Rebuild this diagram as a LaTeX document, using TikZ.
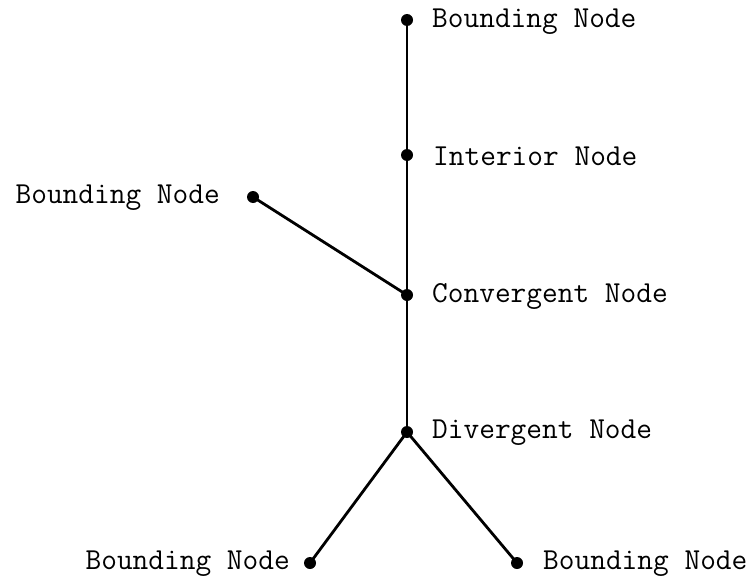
\documentclass[tikz,border=0pt]{standalone}
\usepackage{fontspec}
\begin{document}
\begin{tikzpicture}[x=1pt,y=-1pt,
  dot/.style={circle,fill=black,inner sep=0pt,minimum size=12pt},
  edge/.style={line width=2.8pt},
  lbl/.style={inner sep=0pt,font=\ttfamily\fontsize{30.5}{34}\selectfont}]
\useasboundingbox (0,0) rectangle (754,586);
\node[dot] (t) at (407,20) {};
\node[dot] (i) at (407,155) {};
\node[dot] (l) at (253,197) {};
\node[dot] (c) at (407,295) {};
\node[dot] (d) at (407,432) {};
\node[dot] (bl) at (310,563) {};
\node[dot] (br) at (517,563) {};
\draw[edge] (t.center) -- (i.center) -- (c.center) -- (d.center);
\draw[edge] (l.center) -- (c.center);
\draw[edge] (d.center) -- (bl.center);
\draw[edge] (d.center) -- (br.center);
\node[lbl,anchor=west] (tl) at ([xshift=25pt,yshift=-2pt]t.center) {Bounding Node};
\node[lbl,anchor=west] (il) at ([xshift=26pt,yshift=-1pt]i.center) {Interior Node};
\node[lbl,anchor=west] (cl) at ([xshift=25pt,yshift=-1pt]c.center) {Convergent Node};
\node[lbl,anchor=west] (dl) at ([xshift=25pt,yshift=-1pt]d.center) {Divergent Node};
\node[lbl,anchor=east] (ll) at ([xshift=-33pt,yshift=-1pt]l.center) {Bounding Node};
\node[lbl,anchor=east] (bll) at ([xshift=-20pt,yshift=-1pt]bl.center) {Bounding Node};
\node[lbl,anchor=west] (brl) at ([xshift=26pt,yshift=-1pt]br.center) {Bounding Node};
\end{tikzpicture}
\end{document}
